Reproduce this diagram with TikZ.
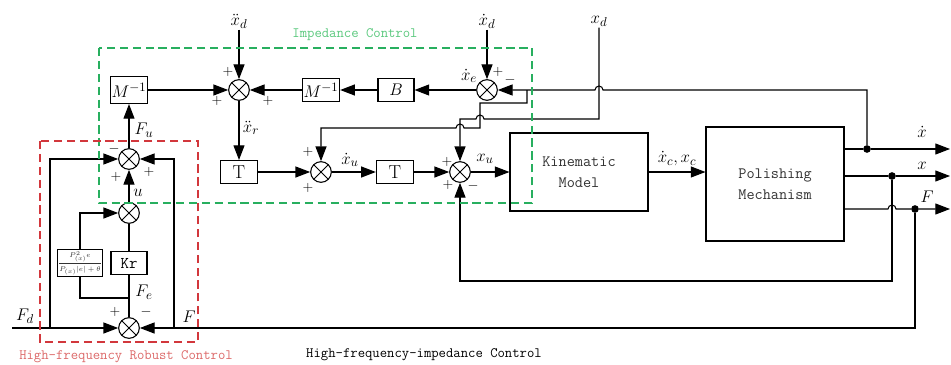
\documentclass[tikz,border=0pt]{standalone}
\usepackage{amsmath}
\usetikzlibrary{positioning,arrows.meta,calc}
\definecolor{impgreen}{RGB}{40,175,95}
\definecolor{implabel}{RGB}{90,200,125}
\definecolor{robred}{RGB}{210,55,60}
\definecolor{roblabel}{RGB}{220,105,105}
\definecolor{boxtext}{RGB}{50,50,50}
\tikzset{
  blk/.style   ={rectangle, draw, line width=0.9pt, inner sep=1pt,
                 minimum width=1.12cm, minimum height=0.69cm, font=\fontsize{15}{17}\selectfont},
  bigblk/.style={rectangle, draw, line width=0.9pt, minimum width=4.14cm, align=center,
                 font=\ttfamily\fontsize{13.5}{18}\selectfont, text=boxtext},
  sumj/.style  ={circle, draw, line width=0.9pt, minimum size=6.2mm, inner sep=0pt,
                 path picture={\draw[line width=0.8pt]
                   (path picture bounding box.south west) -- (path picture bounding box.north east)
                   (path picture bounding box.north west) -- (path picture bounding box.south east);}},
  sig/.style   ={-{Triangle[length=4.4mm,width=3.3mm]}, line width=0.9pt},
  wire/.style  ={line width=0.9pt},
  lbl/.style   ={font=\fontsize{15.5}{17}\selectfont, inner sep=1pt},
  sgn/.style   ={font=\fontsize{13}{15}\selectfont, inner sep=0pt},
  jdot/.style  ={circle, fill, inner sep=0pt, minimum size=2.3mm},
  area/.style  ={line width=1pt, dash pattern=on 7pt off 4pt},
  areatxt/.style={font=\ttfamily\fontsize{12.2}{14}\selectfont},
}

\begin{document}
\begin{tikzpicture}[x=0.03cm, y=-0.03cm]
\useasboundingbox (0,0) rectangle (951,365);

% impedance control
\node[sumj] (sR) at (239,90) {};
\node[blk, minimum height=0.81cm] (Minv1) at (129,90) {$M^{-1}$};
\node[blk] (Minv2) at (321,90) {$M^{-1}$};
\node[blk, minimum width=1.08cm] (Bb) at (396,90) {$B$};
\node[sumj] (sE) at (487,90) {};
\node[blk, font=\fontsize{16}{18}\selectfont] (T1) at (239,172) {T};
\node[sumj] (s1) at (321,172) {};
\node[blk, font=\fontsize{16}{18}\selectfont] (T2) at (395,172) {T};
\node[sumj] (s2) at (460,172) {};
\node[bigblk, minimum height=2.34cm] (kin) at (579,172) {Kinematic\\Model};
\node[bigblk, minimum height=3.42cm] (pol) at (775,184) {Polishing\\Mechanism};

\node[lbl] (lxddd) at (239,21) {$\ddot{x}_d$};
\node[lbl] (lxdotd) at (487,21) {$\dot{x}_d$};
\node[lbl] (lxd) at (599,21) {$x_d$};

\node[jdot] (dv) at (867,149) {};
\node[jdot] (dx) at (892,176) {};
\node[jdot] (dF) at (915,209) {};
\coordinate (ov) at (950,149);
\coordinate (ox) at (950,176);
\coordinate (oF) at (950,209);

\draw[sig] (lxddd) -- (sR);
\draw[sig] (Minv1) -- (sR);
\draw[sig] (Minv2) -- (sR);
\draw[sig] (Bb) -- (Minv2);
\draw[sig] (sE) -- (Bb);
\draw[sig] (lxdotd) -- (sE);
\draw[sig] (sR) -- (T1);
\draw[sig] (T1) -- (s1);
\draw[sig] (s1) -- (T2);
\draw[sig] (T2) -- (s2);
\draw[sig] (s2) -- (kin);
\draw[sig] (kin.east) -- (kin.east -| pol.west);

% plant outputs
\draw[sig] (pol.east |- dv) -- (dv) -- (ov);
\draw[sig] (pol.east |- dx) -- (dx) -- (ox);
\draw[sig] (pol.east |- dF) -- ($(dx |- dF)+(-4,0)$) arc[start angle=180, end angle=0, radius=1.2mm]
  -- (dF) -- (oF);

% feedback of velocity and position
\coordinate (br1) at (527,90);
\coordinate (k1) at (480,103);
\coordinate (k2) at (480,128);
\coordinate (k3) at (599,119);
\coordinate (k4) at (892,281);
\draw[sig] (dv) -- (dv |- sE) -- ($(lxd |- sE)+(4,0)$) arc[start angle=0, end angle=180, radius=1.2mm] -- (sE);
\draw[sig] (br1) -- (br1 |- k1) -- (k1) -- (k2) -- ($(s2 |- k2)+(4,0)$)
  arc[start angle=0, end angle=180, radius=1.2mm] -- (s1 |- k2) -- (s1);
\draw[sig] (lxd) -- (k3) -- ($(k1 |- k3)+(4,0)$) arc[start angle=0, end angle=180, radius=1.2mm]
  -- (s2 |- k3) -- (s2);
\draw[sig] (dx) -- (k4) -| (s2);

% high-frequency robust control
\node[sumj] (sF) at (129,159) {};
\node[sumj] (sU) at (129,213) {};
\node[blk, minimum width=1.08cm, font=\ttfamily\fontsize{14}{16}\selectfont] (kr) at (129,263) {Kr};
\node[blk, minimum width=1.17cm, minimum height=0.81cm, inner sep=0.5pt, text=boxtext,
      font=\fontsize{6}{7}\selectfont] (frac) at (80,263) {$\dfrac{P_{(x)}^{2}e}{P_{(x)}|e|+\theta}$};
\node[sumj] (sFe) at (129,328) {};
\coordinate (fd0) at (12,328);
\coordinate (k5) at (915,328);
\coordinate (k6) at (174,328);
\coordinate (k7) at (50,328);
\coordinate (k8) at (129,298);

\draw[sig] (fd0) -- (sFe);
\draw[sig] (k7) |- (sF);
\draw[sig] (dF) -- (k5) -- (sFe);
\draw[sig] (k6) |- (sF);
\draw[wire] (sFe) -- (kr);
\draw[wire] (kr) -- (sU);
\draw[wire] (k8) -| (frac);
\draw[sig] (frac) |- (sU);
\draw[sig] (sU) -- (sF);
\draw[sig] (sF) -- (Minv1);

% signal names
\node[lbl] (lFu) at (144,130) {$F_u$};
\node[lbl] (lxr) at (251,128) {$\ddot{x}_r$};
\node[lbl] (lu) at (138,193) {$u$};
\node[lbl] (lFe) at (144,292) {$F_e$};
\node[lbl] (lFd) at (25,316) {$F_d$};
\node[lbl] (lF1) at (189,317) {$F$};
\node[lbl] (lxu1) at (350,160) {$\dot{x}_u$};
\node[lbl] (lxu2) at (485,159) {$x_u$};
\node[lbl] (lxe) at (469,76) {$\dot{x}_e$};
\node[lbl] (lxc) at (677,159) {$\dot{x}_c,x_c$};
\node[lbl] (lxv) at (922,132) {$\dot{x}$};
\node[lbl] (lx) at (922,166) {$x$};
\node[lbl] (lF2) at (927,197) {$F$};

\foreach \px/\py/\s [count=\i] in {228/72/+, 217/101/+, 268/101/+, 114/149/-, 149/172/+, 116/177/+,
    115/312/+, 146/312/-, 308/152/+, 308/188/+, 447/162/+, 448/185/+, 473/186/-, 498/72/+, 510/80/-}
  \node[sgn] (sg\i) at (\px,\py) {$\s$};

% areas
\draw[area, draw=impgreen] (99,48) rectangle (532,203);
\draw[area, draw=robred] (40,141) rectangle (198,342);
\node[areatxt, text=implabel] (tImp) at (355,35) {Impedance Control};
\node[areatxt, text=roblabel] (tRob) at (126,357) {High-frequency Robust Control};
\node[areatxt] (tAll) at (424,355) {High-frequency-impedance Control};
\end{tikzpicture}
\end{document}
